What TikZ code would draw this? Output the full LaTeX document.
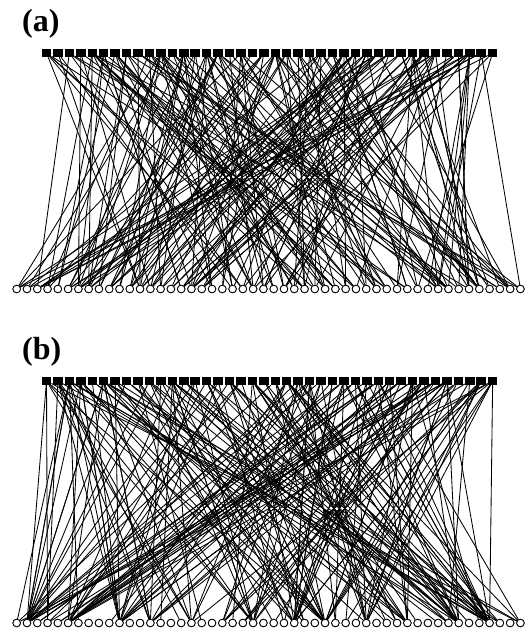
\documentclass[tikz,border=0pt]{standalone}
\usepackage{fontspec}
\setmainfont{Liberation Serif}
\begin{document}
\begin{tikzpicture}[x=1pt,y=-1pt,
  sq/.style={fill=black,draw=none,minimum width=9.5pt,minimum height=8pt,inner sep=0pt},
  cir/.style={circle,draw=black,fill=white,line width=0.8pt,minimum size=7.6pt,inner sep=0pt},
  edge/.style={line width=0.85pt,black},
  lab/.style={font=\fontsize{32}{33}\selectfont\bfseries,anchor=west,inner sep=0pt}]
\useasboundingbox (0,0) rectangle (532,635);
\node[lab] (la) at (22,24) {(a)};
\node[lab] (lb) at (22,352) {(b)};
% nodes
\foreach \i in {0,...,39}{
  \node[sq] (sa\i) at ({46.5+\i*11.44},53) {};
  \node[sq] (sb\i) at ({46.5+\i*11.44},381) {};
}
\foreach \j in {0,...,49}{
  \node[cir] (ca\j) at ({16.7+\j*10.28},289) {};
  \node[cir] (cb\j) at ({16.7+\j*10.28},623) {};
}
% edges (a)
\pgfmathsetseed{4242}
\foreach \i in {1,...,215}{
  \pgfmathrandominteger{\s}{0}{39}
  \pgfmathrandominteger{\c}{0}{49}
  \draw[edge] (sa\s) -- (ca\c);
}
% edges (b)
\pgfmathsetseed{777}
\foreach \i in {1,...,225}{
  \pgfmathrandominteger{\s}{0}{39}
  \pgfmathrandominteger{\r}{0}{9}
  \pgfmathrandominteger{\h}{0}{12}
  \pgfmathrandominteger{\u}{0}{49}
  \pgfmathtruncatemacro{\hv}{{1,10,17,20,23,27,30,34,38,43,46,5,13}[\h]}
  \ifnum\r<7 \edef\c{\hv}\else\edef\c{\u}\fi
  \draw[edge] (sb\s) -- (cb\c);
}
% redraw circles on top
\foreach \j in {0,...,49}{
  \node[cir] at (ca\j) {};
  \node[cir] at (cb\j) {};
}
\end{tikzpicture}
\end{document}
